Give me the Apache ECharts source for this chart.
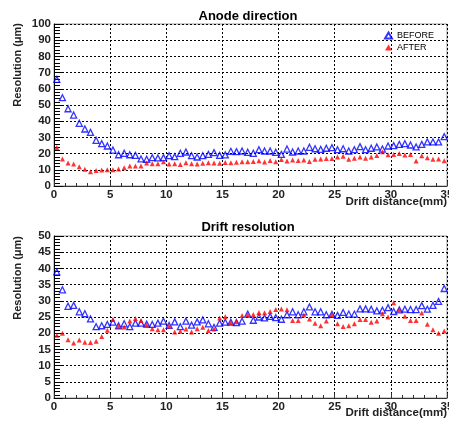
<!DOCTYPE html>
<html>
<head>
<meta charset="utf-8">
<script src="https://cdn.jsdelivr.net/npm/echarts@6/dist/echarts.min.js"></script>
<style>
  html, body { margin: 0; padding: 0; background: #fff; overflow: hidden; }
  #main { width: 449px; height: 423px; }
</style>
</head>
<body>
<div id="main"></div>
<script>
// drift distance (mm), bin centres
let dist = [0.25, 0.75, 1.25, 1.75, 2.25, 2.75, 3.25, 3.75, 4.25, 4.75,
    5.25, 5.75, 6.25, 6.75, 7.25, 7.75, 8.25, 8.75, 9.25, 9.75,
    10.25, 10.75, 11.25, 11.75, 12.25, 12.75, 13.25, 13.75, 14.25, 14.75,
    15.25, 15.75, 16.25, 16.75, 17.25, 17.75, 18.25, 18.75, 19.25, 19.75,
    20.25, 20.75, 21.25, 21.75, 22.25, 22.75, 23.25, 23.75, 24.25, 24.75,
    25.25, 25.75, 26.25, 26.75, 27.25, 27.75, 28.25, 28.75, 29.25, 29.75,
    30.25, 30.75, 31.25, 31.75, 32.25, 32.75, 33.25, 33.75, 34.25, 34.75]

// Anode direction
let anodeBefore = [65.8, 54.5, 47.7, 43.8, 38.7, 35.2, 33.1, 28.2, 26.1, 24.7,
    22.2, 19.3, 20.2, 19.3, 18.9, 16.7, 16.5, 17.5, 17.3, 17.5,
    18.7, 18.1, 20.2, 21.0, 18.7, 17.9, 18.7, 19.5, 20.6, 18.9,
    19.2, 21.4, 21.2, 21.6, 20.8, 20.2, 22.4, 21.6, 21.6, 20.8,
    19.5, 22.8, 21.0, 21.6, 21.6, 23.9, 23.0, 22.6, 23.3, 23.7,
    22.4, 23.0, 21.6, 22.4, 24.3, 22.4, 23.3, 24.1, 22.8, 24.7,
    24.9, 25.7, 26.1, 25.3, 24.1, 25.7, 27.2, 27.2, 27.2, 30.5]
let anodeAfter = [23.7, 16.7, 14.2, 13.6, 11.9, 10.3, 8.8, 9.5, 9.9, 10.1,
    10.1, 10.5, 11.3, 12.3, 12.3, 12.3, 14.2, 13.8, 13.8, 15.0,
    13.6, 13.8, 13.2, 14.4, 13.8, 13.6, 14.0, 14.4, 14.2, 14.0,
    14.5, 14.4, 14.6, 15.0, 15.0, 15.2, 15.6, 14.8, 15.8, 15.0,
    16.3, 15.4, 16.0, 15.8, 16.0, 15.2, 16.5, 16.7, 16.9, 16.9,
    17.9, 18.3, 16.5, 17.1, 17.9, 17.1, 17.9, 18.9, 21.2, 19.3,
    19.5, 20.0, 19.1, 19.5, 15.4, 18.7, 17.5, 16.5, 16.7, 15.6]

// Drift resolution
let driftBefore = [38.9, 33.4, 28.3, 28.6, 26.6, 26.0, 24.4, 22.0, 22.3, 22.7,
    23.4, 22.3, 22.9, 22.0, 23.1, 23.1, 22.8, 22.7, 23.1, 23.7,
    22.4, 23.5, 22.0, 23.7, 22.5, 23.5, 24.1, 22.9, 21.8, 23.1,
    23.4, 23.4, 23.3, 23.7, 25.9, 24.0, 25.0, 24.7, 25.2, 24.8,
    24.3, 25.7, 26.6, 25.7, 26.6, 28.1, 26.6, 26.6, 25.7, 25.8,
    25.5, 26.4, 25.9, 25.9, 27.5, 27.5, 27.4, 26.9, 27.1, 27.9,
    26.7, 27.2, 27.4, 27.3, 27.3, 28.5, 27.4, 28.6, 29.8, 33.8]
let driftAfter = [19.4, 20.0, 18.0, 17.0, 17.9, 17.2, 17.1, 17.5, 19.0, 20.9,
    24.2, 22.2, 21.9, 23.8, 24.5, 23.9, 22.5, 21.4, 21.1, 21.1,
    22.2, 20.4, 20.6, 21.3, 20.4, 21.4, 21.8, 20.8, 21.3, 24.7,
    25.1, 23.3, 23.6, 25.5, 25.7, 25.8, 26.4, 26.3, 26.7, 27.3,
    27.5, 27.2, 23.9, 23.9, 25.6, 24.4, 23.1, 22.3, 23.8, 25.7,
    22.9, 22.1, 22.3, 22.9, 24.2, 24.2, 23.4, 23.8, 26.0, 25.0,
    29.4, 27.2, 25.2, 23.9, 23.9, 26.2, 22.8, 21.1, 20.0, 20.7]

let titles = ['Anode direction', 'Drift resolution']
let yName = 'Resolution (\u03bcm)'
let xName = 'Drift distance(mm)'

const FONT = '"Liberation Sans", Arial, sans-serif'

function pairs(ys) {
    return dist.map(function (d, i) { return [d, ys[i]] })
}

function xAxisCfg(idx) {
    return {
        type: 'value',
        gridIndex: idx,
        min: 0,
        max: 35,
        interval: 5,
        axisLine: { show: true, onZero: false, lineStyle: { color: '#333', width: 1 } },
        axisTick: { show: true, inside: true, length: 5, lineStyle: { color: '#333' } },
        minorTick: { show: true, splitNumber: 5, length: 3, lineStyle: { color: '#333' } },
        axisLabel: { fontSize: 11.5, fontWeight: 'bold', color: '#222', fontFamily: FONT, margin: 3 },
        splitLine: { show: true, lineStyle: { color: '#000', width: 1, type: [2, 2] } },
    }
}

function yAxisCfg(idx, max, interval) {
    return {
        type: 'value',
        gridIndex: idx,
        min: 0,
        max: max,
        interval: interval,
        axisLine: { show: true, lineStyle: { color: '#000', width: 1 } },
        axisTick: { show: true, inside: true, length: 9, lineStyle: { color: '#000' } },
        minorTick: { show: true, splitNumber: 5, length: 6, lineStyle: { color: '#000' } },
        axisLabel: { fontSize: 11.5, fontWeight: 'bold', color: '#222', fontFamily: FONT, margin: 3 },
        splitLine: { show: true, lineStyle: { color: '#000', width: 1, type: [2, 2] } },
    }
}

function beforeSeries(idx, ys) {
    return {
        name: 'BEFORE',
        type: 'scatter',
        xAxisIndex: idx,
        yAxisIndex: idx,
        symbol: 'triangle',
        symbolSize: 6,
        data: pairs(ys),
        itemStyle: { color: 'rgba(255,255,255,0)', borderColor: '#0000ff', borderWidth: 1.3 },
        emphasis: { disabled: true },
    }
}

function afterSeries(idx, ys) {
    return {
        name: 'AFTER',
        type: 'scatter',
        xAxisIndex: idx,
        yAxisIndex: idx,
        symbol: 'triangle',
        symbolSize: 5,
        data: pairs(ys),
        itemStyle: { color: '#ff0000' },
        emphasis: { disabled: true },
    }
}

var chartDom = document.getElementById('main')
var myChart = echarts.init(chartDom, null, { renderer: 'canvas' })
var option = {
    backgroundColor: '#fff',
    animation: false,
    title: [
        { text: titles[0], left: 243, top: 5, textAlign: 'center',
          textStyle: { fontSize: 13, fontWeight: 'bold', color: '#000', fontFamily: FONT } },
        { text: titles[1], left: 243, top: 216, textAlign: 'center',
          textStyle: { fontSize: 13, fontWeight: 'bold', color: '#000', fontFamily: FONT } },
    ],
    legend: {
        left: 379,
        top: 26,
        orient: 'vertical',
        itemWidth: 7,
        itemHeight: 6,
        itemGap: 3,
        selectedMode: false,
        data: ['BEFORE', 'AFTER'],
        textStyle: { fontSize: 9, color: '#000', fontFamily: FONT },
    },
    grid: [
        { left: 54, top: 24, width: 393, height: 162, show: true, borderColor: '#999', borderWidth: 1,
          containLabel: false, outerBoundsMode: 'none' },
        { left: 54, top: 236, width: 393, height: 162, show: true, borderColor: '#999', borderWidth: 1,
          containLabel: false, outerBoundsMode: 'none' },
    ],
    xAxis: [xAxisCfg(0), xAxisCfg(1)],
    yAxis: [yAxisCfg(0, 100, 10), yAxisCfg(1, 50, 5)],
    graphic: [
        { type: 'text', x: 12, y: 23, rotation: Math.PI / 2,
          style: { text: yName, font: 'bold 11px ' + FONT, fill: '#222', align: 'right', verticalAlign: 'top' } },
        { type: 'text', x: 12, y: 236, rotation: Math.PI / 2,
          style: { text: yName, font: 'bold 11px ' + FONT, fill: '#222', align: 'right', verticalAlign: 'top' } },
        { type: 'text', x: 447, y: 196,
          style: { text: xName, font: 'bold 11.5px ' + FONT, fill: '#222', align: 'right', verticalAlign: 'top' } },
        { type: 'text', x: 447, y: 407,
          style: { text: xName, font: 'bold 11.5px ' + FONT, fill: '#222', align: 'right', verticalAlign: 'top' } },
    ],
    series: [
        beforeSeries(0, anodeBefore),
        afterSeries(0, anodeAfter),
        beforeSeries(1, driftBefore),
        afterSeries(1, driftAfter),
    ],
}
option && myChart.setOption(option)
</script>
</body>
</html>
